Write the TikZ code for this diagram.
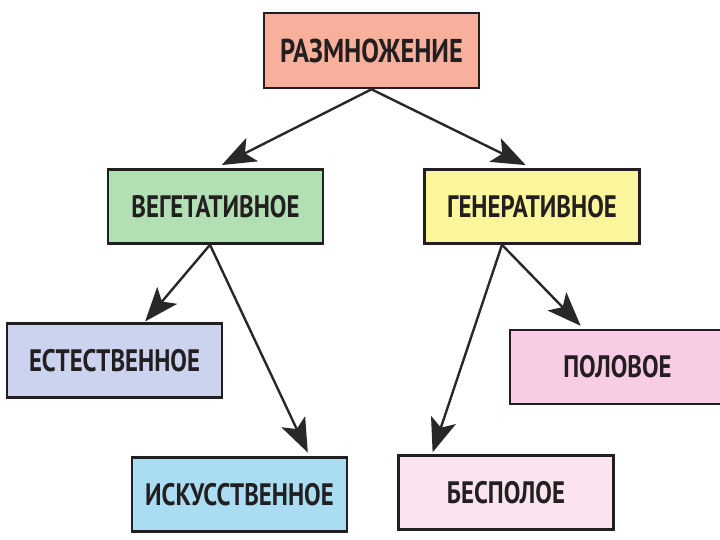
\documentclass[tikz,border=0pt]{standalone}
\usepackage{fontspec}
\usepackage{xcolor}
\usetikzlibrary{arrows.meta}
\newfontfamily\boxfont[FakeStretch=0.8]{PT Sans}
\definecolor{boxink}{HTML}{231F20}
\definecolor{linkink}{HTML}{2A2728}
\definecolor{fillroot}{HTML}{F8AF9C}
\definecolor{fillveg}{HTML}{B2DFB4}
\definecolor{fillgen}{HTML}{FBF69C}
\definecolor{fillnat}{HTML}{CCD3EE}
\definecolor{fillart}{HTML}{AADDF2}
\definecolor{fillsex}{HTML}{F9CCE5}
\definecolor{fillasex}{HTML}{FCE3F0}

\begin{document}
\begin{tikzpicture}[
  x=0.5pt,
  y=-0.5pt,
  every node/.style={font=\boxfont\bfseries\fontsize{15.5}{17}\selectfont, boxink},
  box/.style={draw=boxink, line width=1.3pt, minimum width=107.5pt,
    minimum height=37pt, inner sep=0pt},
  link/.style={linkink, line width=1.2pt,
    -{Stealth[length=17pt, width=13pt, inset=4pt]}}
]
  % ---- page frame -------------------------------------------------------
  \useasboundingbox (0,0) rectangle (720,540);

  % ---- the boxes ----------------------------------------------------------
  \node[box, fill=fillroot, font=\boxfont\bfseries\fontsize{16.5}{18}\selectfont,
    minimum height=37.5pt] (root) at (371.5,50.5) {РАЗМНОЖЕНИЕ};
  \node[box, fill=fillveg] (veg) at (215.5,206.5) {ВЕГЕТАТИВНОЕ};
  \node[box, fill=fillgen] (gen) at (532,206.5) {ГЕНЕРАТИВНОЕ};
  \node[box, fill=fillnat] (nat) at (114.5,360.5) {ЕСТЕСТВЕННОЕ};
  \node[box, fill=fillart] (art) at (239.5,494.5) {ИСКУССТВЕННОЕ};
  \node[box, fill=fillsex] (sex) at (617.5,367) {ПОЛОВОЕ};
  \node[box, fill=fillasex] (asex) at (506,492.5) {БЕСПОЛОЕ};

  % ---- arrows -------------------------------------------------------------
  \draw[link, shorten >=3.5pt] (root.south) -- (veg.north);
  \draw[link, shorten >=3.5pt] (root.south) -- (gen.north);
  \draw[link, shorten >=0.5pt] ([xshift=-2.75pt]veg.south) -- ([xshift=15pt]nat.north);
  \draw[link, shorten >=2pt] ([xshift=-2.75pt]veg.south) -- ([xshift=35pt]art.north);
  \draw[link, shorten >=1pt] ([xshift=-15pt]gen.south) -- ([xshift=-37pt]asex.north);
  \draw[link, shorten >=2pt] ([xshift=-15pt]gen.south) -- ([xshift=-17pt]sex.north);
\end{tikzpicture}
\end{document}
